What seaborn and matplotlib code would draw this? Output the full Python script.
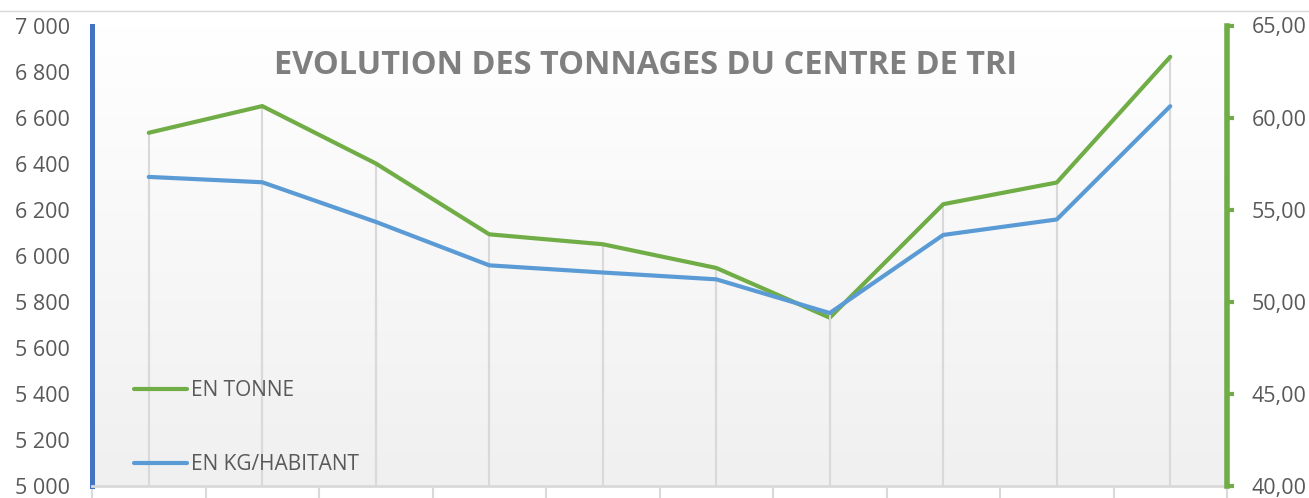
import numpy as np
import pandas as pd
import matplotlib
matplotlib.use("Agg")
import matplotlib.pyplot as plt
from matplotlib.colors import LinearSegmentedColormap
from matplotlib.lines import Line2D
from matplotlib.ticker import FuncFormatter
import seaborn as sns

# Data
annees = ['2010', '2011', '2012', '2013', '2014', '2015', '2016', '2017', '2018', '2019']
en_tonne = [6534, 6650, 6401, 6093, 6050, 5947, 5731, 6224, 6318, 6864]
en_kg_hab = [56.78, 56.49, 54.34, 51.98, 51.59, 51.22, 49.39, 53.63, 54.47, 60.62]
ticks_tonne = list(range(5000, 7001, 200))
ticks_kg = list(range(40, 66, 5))

df = pd.DataFrame({'annee': annees, 'pos': np.arange(len(annees)),
                   'tonne': en_tonne, 'kg': en_kg_hab})

sns.set_theme(style="white")
plt.rcParams['font.family'] = ['Open Sans', 'DejaVu Sans']

W, H = 1309, 498
fig = plt.figure(figsize=(W / 100, H / 100), dpi=100)
ax = fig.add_axes([92 / W, 12 / H, 1135 / W, 460.5 / H])
ax2 = ax.twinx()

# background gradient of the plot area
cmap = LinearSegmentedColormap.from_list('bg', ['#ffffff', '#f0f0f0'])
grad = np.linspace(0, 1, 256).reshape(-1, 1)
ax.imshow(grad, extent=[-0.5, 9.5, 5000, 7000], aspect='auto', cmap=cmap,
          origin='upper', zorder=0)

# drop lines
ax.vlines(df['pos'], 5000, df['tonne'], color='#d9d9d9', lw=1.5, zorder=1)
ax2.vlines(df['pos'], 40, df['kg'], color='#d9d9d9', lw=1.5, zorder=1)

sns.lineplot(data=df, x='pos', y='tonne', ax=ax, color='#70ad47', lw=3,
             label='EN TONNE', legend=False, zorder=3)
sns.lineplot(data=df, x='pos', y='kg', ax=ax2, color='#5b9bd5', lw=3,
             label='EN KG/HABITANT', legend=False, zorder=3)

ax.set_xlim(-0.5, 9.5)
ax.set_ylim(5000, 7000)
ax2.set_ylim(40, 65)
ax.set_xlabel('')
ax.set_ylabel('')
ax2.set_ylabel('')

ax.set_yticks(ticks_tonne)
ax.yaxis.set_major_formatter(FuncFormatter(lambda v, p: f"{int(v):,}".replace(',', ' ')))
ax2.set_yticks(ticks_kg)
ax2.yaxis.set_major_formatter(FuncFormatter(lambda v, p: f"{v:.2f}".replace('.', ',')))

# year labels sit mostly below the bottom edge, as in the original
ax.set_xticks(df['pos'])
ax.set_xticklabels(annees)
ax.tick_params(axis='x', length=0, pad=10.5, labelsize=15.5, labelcolor='#595959')
ax.tick_params(axis='y', length=0, pad=16, labelsize=15.5, labelcolor='#595959')
ax2.tick_params(axis='y', direction='out', length=5, width=3, color='#70ad47',
                pad=13, labelsize=15.5, labelcolor='#595959')

for s in ['top', 'right']:
    ax.spines[s].set_visible(False)
ax.spines['left'].set_color('#4472c4')
ax.spines['left'].set_linewidth(3.6)
ax.spines['bottom'].set_color('#d9d9d9')
ax.spines['bottom'].set_linewidth(2)
for s in ['top', 'left', 'bottom']:
    ax2.spines[s].set_visible(False)
ax2.spines['right'].set_color('#70ad47')
ax2.spines['right'].set_linewidth(4)

# category cells under the axis
for b in np.arange(-0.5, 10):
    ax.plot([b, b], [-0.005, -0.03], transform=ax.get_xaxis_transform(),
            color='#d9d9d9', lw=1.5, clip_on=False)

h1, l1 = ax.get_legend_handles_labels()
h2, l2 = ax2.get_legend_handles_labels()
ax2.legend(h1 + h2, l1 + l2, loc='lower left', bbox_to_anchor=(0.037, 0.023),
           frameon=False, fontsize=15, labelcolor='#595959', handlelength=2.55,
           handletextpad=0.2, labelspacing=2.55, borderpad=0, borderaxespad=0)

fig.text(646 / W, 1 - 66 / H, 'EVOLUTION DES TONNAGES DU CENTRE DE TRI',
         ha='center', va='center', fontsize=23.4, fontweight='bold', color='#7f7f7f')
fig.add_artist(Line2D([0, 1], [1 - 11 / H] * 2, color='#d9d9d9', lw=1))

fig.savefig('out.png', dpi=100)
